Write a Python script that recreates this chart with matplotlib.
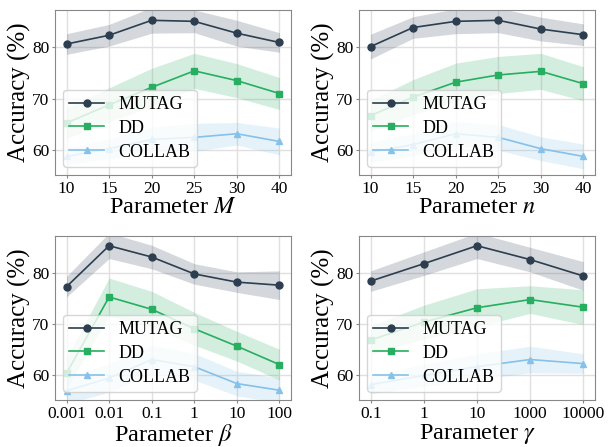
import numpy as np
import matplotlib
matplotlib.use('Agg')
import matplotlib.pyplot as plt

plt.rcParams['font.family'] = ['Liberation Serif', 'DejaVu Serif']
plt.rcParams['mathtext.fontset'] = 'stix'

# x tick labels of each panel
m_ticks = ['10', '15', '20', '25', '30', '40']
n_ticks = ['10', '15', '20', '25', '30', '40']
beta_ticks = ['0.001', '0.01', '0.1', '1', '10', '100']
gamma_ticks = ['0.1', '1', '10', '1000', '10000']

# accuracy (mean) and spread (std) per dataset
m_mutag = [80.6, 82.3, 85.2, 85.0, 82.7, 80.9]
m_mutag_sd = [2.0, 2.1, 2.5, 2.2, 2.5, 1.9]
m_dd = [65.3, 68.8, 72.2, 75.4, 73.5, 71.0]
m_dd_sd = [3.0, 3.3, 3.7, 3.4, 3.3, 3.1]
m_collab = [58.8, 60.3, 62.1, 62.5, 63.2, 61.7]
m_collab_sd = [1.6, 2.0, 2.4, 2.7, 2.2, 2.6]

n_mutag = [80.1, 83.8, 85.0, 85.2, 83.5, 82.4]
n_mutag_sd = [2.4, 2.1, 2.4, 2.4, 2.3, 2.1]
n_dd = [66.7, 70.3, 73.2, 74.6, 75.3, 72.9]
n_dd_sd = [3.0, 3.4, 3.7, 3.6, 3.5, 3.3]
n_collab = [59.6, 61.1, 63.2, 62.5, 60.3, 58.8]
n_collab_sd = [2.0, 2.2, 2.4, 2.5, 2.3, 2.4]

beta_mutag = [77.3, 85.3, 83.1, 79.8, 78.2, 77.6]
beta_mutag_sd = [2.0, 2.5, 2.3, 2.0, 2.0, 2.8]
beta_dd = [60.4, 75.3, 72.9, 69.1, 65.7, 62.1]
beta_dd_sd = [3.0, 3.7, 3.5, 3.2, 2.9, 3.0]
beta_collab = [57.0, 59.5, 63.1, 61.7, 58.4, 57.1]
beta_collab_sd = [2.5, 2.8, 2.8, 2.6, 2.4, 2.4]

gamma_mutag = [78.4, 81.8, 85.3, 82.6, 79.4]
gamma_mutag_sd = [2.0, 2.3, 2.5, 2.4, 2.8]
gamma_dd = [66.9, 70.4, 73.2, 74.8, 73.3]
gamma_dd_sd = [2.8, 3.3, 3.7, 2.7, 3.4]
gamma_collab = [58.2, 60.0, 61.7, 63.1, 62.3]
gamma_collab_sd = [1.8, 2.2, 2.5, 2.6, 1.9]

colors = ['#2c3e50', '#27ae60', '#85c1e9']
markers = ['o', 's', '^']
names = ['MUTAG', 'DD', 'COLLAB']

panels = [
    (m_ticks, [(m_mutag, m_mutag_sd), (m_dd, m_dd_sd), (m_collab, m_collab_sd)], r'Parameter $M$'),
    (n_ticks, [(n_mutag, n_mutag_sd), (n_dd, n_dd_sd), (n_collab, n_collab_sd)], r'Parameter $n$'),
    (beta_ticks, [(beta_mutag, beta_mutag_sd), (beta_dd, beta_dd_sd), (beta_collab, beta_collab_sd)], r'Parameter $\beta$'),
    (gamma_ticks, [(gamma_mutag, gamma_mutag_sd), (gamma_dd, gamma_dd_sd), (gamma_collab, gamma_collab_sd)], r'Parameter $\gamma$'),
]

fig = plt.figure(figsize=(6.08, 4.47), dpi=100)
W, H = 608.0, 447.0
boxes = [(55, 10, 291, 175), (359, 10, 595, 175), (55, 236, 291, 400), (359, 236, 595, 400)]

for (ticks, series, xlabel), (x0, y0, x1, y1) in zip(panels, boxes):
    ax = fig.add_axes([x0 / W, 1 - y1 / H, (x1 - x0) / W, (y1 - y0) / H])
    x = np.arange(len(ticks))
    for (mean, sd), c, mk, name in zip(series, colors, markers, names):
        mean = np.array(mean)
        sd = np.array(sd)
        ax.fill_between(x, mean - sd, mean + sd, color=c, alpha=0.2, lw=0)
        ax.plot(x, mean, color=c, marker=mk, markersize=5, lw=1.2, label=name)
    ax.set_xticks(x)
    ax.set_xticklabels(ticks)
    margin = 0.27 if len(ticks) == 6 else 0.22
    ax.set_xlim(-margin, len(ticks) - 1 + margin)
    ax.set_ylim(55.2, 87.2)
    ax.set_yticks([60, 70, 80])
    ax.grid(True, color='#e0e0e0', lw=1)
    ax.set_axisbelow(True)
    for s in ax.spines.values():
        s.set_color('#888888')
    ax.tick_params(labelsize=12.5, length=2.5, color='#888888', pad=1.5)
    ax.set_xlabel(xlabel, fontsize=17.5, labelpad=0)
    ax.set_ylabel('Accuracy (%)', fontsize=18, labelpad=1)
    leg = ax.legend(loc='lower left', fontsize=13, framealpha=0.8, fancybox=True,
                    edgecolor='#cccccc', borderaxespad=0.45, handlelength=1.9,
                    labelspacing=0.38, borderpad=0.35, handletextpad=0.8)
    leg.get_frame().set_boxstyle('round', pad=0.0, rounding_size=0.2)

fig.savefig('out.png', dpi=100)
